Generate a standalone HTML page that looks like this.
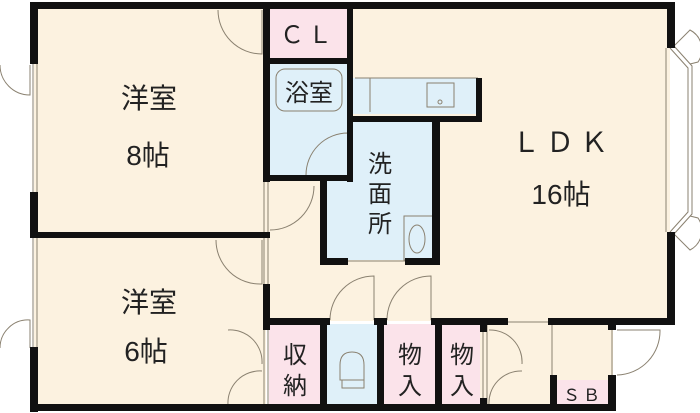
<!DOCTYPE html>
<html><head><meta charset="utf-8"><style>
html,body{margin:0;padding:0;background:#fff;width:700px;height:413px;overflow:hidden}
text{font-family:"Liberation Sans","Noto Sans CJK JP",sans-serif;fill:#222}
</style></head><body>
<svg width="700" height="413" viewBox="0 0 700 413" xmlns="http://www.w3.org/2000/svg">
<g fill="#fcf2e0">
<rect x="34" y="5" width="636" height="316"/>
<rect x="34" y="235" width="232" height="172"/>
<rect x="480" y="320" width="133" height="88"/>
</g>
<g fill="#fbe3ea">
<rect x="268" y="8" width="80" height="52"/>
<rect x="269" y="324" width="52" height="82"/>
<rect x="384" y="324" width="52" height="82"/>
<rect x="442" y="324" width="38" height="82"/>
<rect x="556" y="380" width="54" height="26"/>
</g>
<g fill="#dff0f9">
<rect x="268" y="62" width="82" height="114"/>
<rect x="352" y="78" width="126" height="36"/>
<rect x="324" y="120" width="112" height="140"/>
<rect x="326" y="324" width="52" height="82"/>
</g>
<g stroke="#8a8170" stroke-width="1" fill="none">
<line x1="33" y1="63" x2="33" y2="193"/><line x1="37" y1="63" x2="37" y2="193"/>
<line x1="33" y1="238" x2="33" y2="348"/><line x1="37" y1="238" x2="37" y2="348"/>
<line x1="264" y1="182" x2="264" y2="405"/><line x1="268" y1="182" x2="268" y2="405"/>
<line x1="666" y1="48" x2="666" y2="232"/>
<path d="M670 48 L688 68 L688 212 L670 232"/>
<path d="M674 46 L692 66 L692 214 L674 234"/>
<line x1="355" y1="78" x2="478" y2="78"/>
<line x1="370" y1="78" x2="370" y2="112"/>
<rect x="427" y="83" width="27" height="24"/>
<circle cx="440" cy="102" r="2"/>
<rect x="404" y="216" width="30" height="44"/>
<ellipse cx="417" cy="239" rx="8" ry="14"/>
<line x1="348" y1="261" x2="405" y2="261"/>
<rect x="276" y="69" width="66" height="42" rx="9"/>
<path d="M340 365 Q340 352 352 352 Q364 352 364 365 L364 380 L340 380 Z"/>
<rect x="342" y="380" width="22" height="8"/>
<line x1="483" y1="324" x2="483" y2="405"/><line x1="487" y1="324" x2="487" y2="405"/>
<line x1="552" y1="324" x2="552" y2="380"/><line x1="612" y1="330" x2="612" y2="378"/>
<line x1="508" y1="322" x2="548" y2="322"/>
<path d="M218 10 A44 44 0 0 0 262 54 L262 10"/>
<path d="M0 65 A30 30 0 0 0 30 95 L30 65"/>
<path d="M0 348 A28 28 0 0 1 30 320 L30 348"/>
<path d="M216 240 A44 44 0 0 0 262 284 L262 240"/>
<path d="M228 330 A32 32 0 0 1 262 364 M228 405 A32 32 0 0 1 262 371"/>
<path d="M306 175 A42 42 0 0 1 348 133 L348 175"/>
<path d="M270 230 A44 44 0 0 0 314 186"/>
<path d="M330 320 A44 44 0 0 1 374 276 L374 320"/>
<path d="M387 320 A44 44 0 0 1 431 276 L431 320"/>
<path d="M489 330 A32 32 0 0 1 522 364 M489 405 A32 32 0 0 1 522 371"/>
<path d="M617 330 L660 330 A44 44 0 0 1 617 375"/>
<path d="M674 46 L690 30 A22 22 0 0 1 698 62 L690 64"/>
<path d="M674 234 L690 250 A22 22 0 0 0 698 218 L690 216"/>
</g>
<g fill="#111">
<rect x="30" y="2" width="645" height="7"/>
<rect x="30" y="2" width="8" height="62"/>
<rect x="30" y="192" width="8" height="46"/>
<rect x="30" y="347" width="8" height="65"/>
<rect x="30" y="404" width="586" height="7"/>
<rect x="30" y="232" width="240" height="6"/>
<rect x="263" y="2" width="7" height="180"/>
<rect x="263" y="284" width="7" height="46"/>
<rect x="347" y="2" width="6" height="180"/>
<rect x="263" y="58" width="90" height="6"/>
<rect x="263" y="175" width="90" height="6"/>
<rect x="353" y="116" width="129" height="6"/>
<rect x="476" y="78" width="6" height="44"/>
<rect x="320" y="175" width="7" height="90"/>
<rect x="432" y="116" width="8" height="149"/>
<rect x="320" y="258" width="28" height="7"/>
<rect x="405" y="258" width="35" height="7"/>
<rect x="263" y="318" width="67" height="7"/>
<rect x="374" y="318" width="13" height="7"/>
<rect x="431" y="318" width="77" height="7"/>
<rect x="320" y="318" width="7" height="93"/>
<rect x="377" y="318" width="7" height="93"/>
<rect x="435" y="318" width="7" height="93"/>
<rect x="480" y="318" width="7" height="14"/><rect x="480" y="398" width="7" height="13"/>
<rect x="548" y="318" width="125" height="7"/>
<rect x="667" y="2" width="8" height="46"/>
<rect x="667" y="232" width="8" height="93"/>
<rect x="550" y="375" width="7" height="36"/>
<rect x="608" y="318" width="8" height="12"/>
<rect x="608" y="375" width="8" height="36"/>
</g>
<g font-size="28">
<text x="149" y="108" text-anchor="middle">洋室</text>
<text x="148" y="165" text-anchor="middle">8帖</text>
<text x="149" y="312" text-anchor="middle">洋室</text>
<text x="146" y="361" text-anchor="middle">6帖</text>
<text x="563" y="152" text-anchor="middle" letter-spacing="6">ＬＤＫ</text>
<text x="561" y="204" text-anchor="middle">16帖</text>
</g>
<g font-size="24" text-anchor="middle">
<text x="308" y="43" letter-spacing="4">ＣＬ</text>
<text x="309" y="101">浴室</text>
<text x="380" y="172">洗</text><text x="380" y="202">面</text><text x="380" y="232">所</text>
<text x="295" y="363">収</text><text x="295" y="394">納</text>
<text x="410" y="363">物</text><text x="410" y="394">入</text>
<text x="462" y="363">物</text><text x="462" y="394">入</text>
</g>
<text x="583" y="401" font-size="17" text-anchor="middle" letter-spacing="3">ＳＢ</text>
</svg>
</body></html>
